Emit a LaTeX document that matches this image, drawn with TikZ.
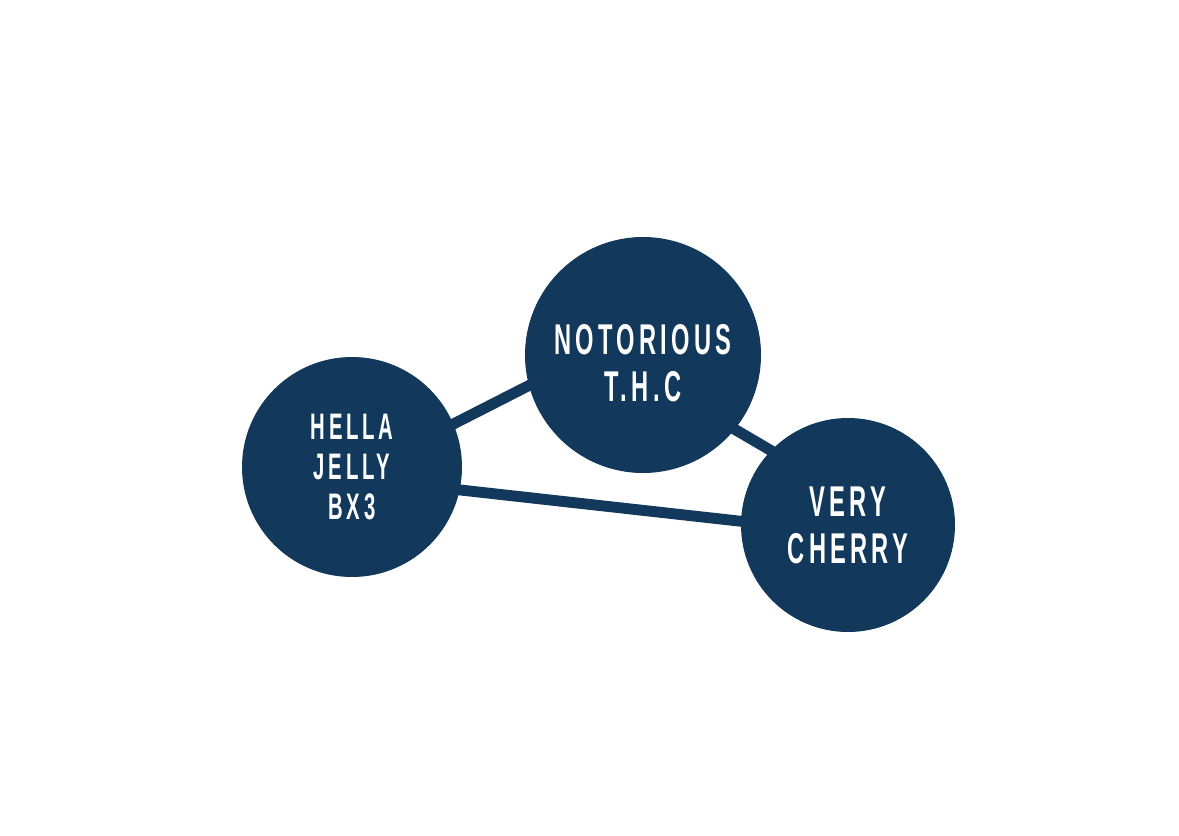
\documentclass[tikz,border=0pt]{standalone}
\usepackage{fontspec}
\setmainfont{Liberation Sans}[FakeStretch=0.55,LetterSpace=10]
\usepackage{xcolor}
\usetikzlibrary{positioning, backgrounds}
\definecolor{navy}{RGB}{18,56,92}

\begin{document}
\begin{tikzpicture}[bubble/.style={circle, fill=navy, text=white, align=center, inner sep=0pt, font=\bfseries\fontsize{24.5}{26.8}\selectfont},
link/.style={draw=navy, line width=6.2pt, shorten <=-6pt, shorten >=-6pt}]
\useasboundingbox (0,0) rectangle (23.58,16.7); %page size
\node[bubble, minimum size=4.4cm, font=\bfseries\fontsize{21}{22.8}\selectfont] (hella) at (7.04,7.36) {HELLA\\JELLY\\BX3};
\node[bubble, minimum size=4.72cm, label={[name=thctext, text=white, align=center, yshift=-0.16cm, font=\bfseries\fontsize{24.5}{26.8}\selectfont]center:{NOTORIOUS\\T.H.C}}] (thc) at (12.86,9.6) {};
\node[bubble, minimum size=4.28cm] (very) at (16.96,6.2) {VERY\\CHERRY};
\begin{scope}[on background layer]
\draw[link] (hella.23) -- (thc.195);
\draw[link] (hella.-12) -- (very.178);
\draw[link] (thc.-39) -- (very.136);
\end{scope}
\end{tikzpicture}
\end{document}
